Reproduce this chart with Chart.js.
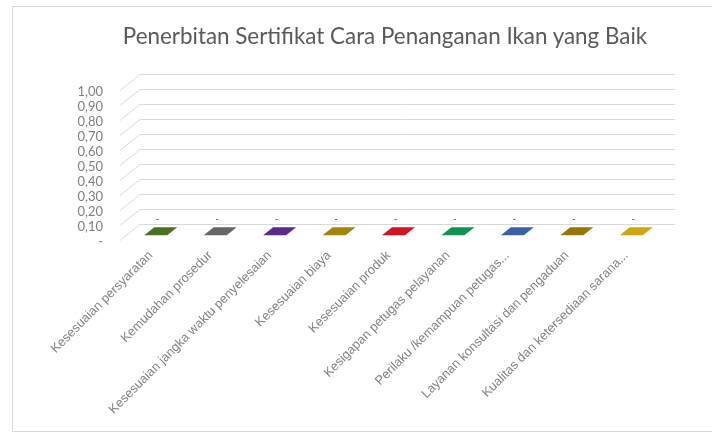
<!DOCTYPE html>
<html>
<head>
<meta charset="utf-8">
<script src="https://cdn.jsdelivr.net/npm/chart.js@4.4.0/dist/chart.umd.min.js"></script>
<style>
  body { margin: 0; background: #fff; overflow: hidden; }
  .frame { position: absolute; left: 12px; top: 6px; width: 760px; height: 424px; border: 1px solid #d9d9d9; }
  .box { position: relative; width: 699px; height: 424px; }
  .title { position: absolute; left: 0; top: 22px; width: 770px; text-align: center;
           font: 22.4px Lato, sans-serif; color: #595959; line-height: 28px; white-space: nowrap; }
</style>
</head>
<body>
<div class="frame"><div class="box"><canvas id="chart"></canvas></div></div>
<div class="title">Penerbitan Sertifikat Cara Penanganan Ikan yang Baik</div>
<script>
const categories = [
    'Kesesuaian persyaratan',
    'Kemudahan prosedur',
    'Kesesuaian jangka waktu penyelesaian',
    'Kesesuaian biaya',
    'Kesesuaian produk',
    'Kesigapan petugas pelayanan',
    'Perilaku /kemampuan petugas...',
    'Layanan konsultasi dan pengaduan',
    'Kualitas dan ketersediaan sarana...'
];
const values = [0, 0, 0, 0, 0, 0, 0, 0, 0];
const barColors = ['#4b7023', '#666666', '#5b2a8c', '#a3850c', '#d01422', '#0f9352', '#3a62a8', '#957708', '#d1a50f'];
const yMin = 0;
const yMax = 1;
const yStep = 0.1;

// Excel style accounting format: 0 shows as "-"
const fmt = v => Math.abs(v) < 1e-9 ? '-' : v.toFixed(2).replace('.', ',');

// depth of the fake 3D floor
const depthX = 20;
const depthY = 16;

const floor3d = {
    id: 'floor3d',
    beforeDatasetsDraw(chart) {
        const { ctx, chartArea, scales } = chart;
        const y = scales.y;
        ctx.save();
        ctx.strokeStyle = '#d9d9d9';
        ctx.lineWidth = 1;
        y.ticks.forEach(t => {
            const py = Math.round(y.getPixelForValue(t.value)) + 0.5;
            ctx.beginPath();
            ctx.moveTo(chartArea.left - depthX, py + depthY);
            ctx.lineTo(chartArea.left, py);
            ctx.stroke();
        });
        ctx.restore();
    },
    afterDatasetsDraw(chart) {
        const { ctx } = chart;
        const meta = chart.getDatasetMeta(0);
        const half = 11.5;
        ctx.save();
        meta.data.forEach((bar, i) => {
            const top = bar.y;
            const f1 = 0.2, f2 = 0.7;
            const y1 = top + f1 * depthY, y2 = top + f2 * depthY;
            const x1 = bar.x - f1 * depthX, x2 = bar.x - f2 * depthX;
            ctx.fillStyle = barColors[i];
            ctx.beginPath();
            ctx.moveTo(x1 - half, y1);
            ctx.lineTo(x1 + half, y1);
            ctx.lineTo(x2 + half, y2);
            ctx.lineTo(x2 - half, y2);
            ctx.closePath();
            ctx.fill();

            ctx.fillStyle = '#404040';
            ctx.font = '10px Lato';
            ctx.textAlign = 'center';
            ctx.textBaseline = 'middle';
            ctx.fillText(fmt(values[i]), bar.x - 12, top - 5);
        });
        ctx.restore();
    }
};

const ctx = document.getElementById('chart').getContext('2d');
new Chart(ctx, {
    type: 'bar',
    data: {
        labels: categories,
        datasets: [{
            data: values,
            backgroundColor: barColors,
            borderWidth: 0,
            barPercentage: 0.4,
            categoryPercentage: 1
        }]
    },
    options: {
        responsive: true,
        maintainAspectRatio: false,
        animation: false,
        layout: { padding: { left: 0, right: 37, top: 67, bottom: 0 } },
        plugins: {
            legend: { display: false },
            tooltip: { enabled: false },
            title: { display: false }
        },
        scales: {
            y: {
                min: yMin,
                max: yMax,
                afterFit(scale) { scale.width = 127; },
                border: { display: false },
                grid: { color: '#d9d9d9', drawTicks: false },
                ticks: {
                    stepSize: yStep,
                    autoSkip: false,
                    padding: 37,
                    labelOffset: 18,
                    color: '#7f7f7f',
                    font: { family: 'Lato', size: 13, lineHeight: 1 },
                    callback: v => fmt(v)
                }
            },
            x: {
                afterFit(scale) { scale.height = 207; },
                border: { display: false },
                grid: { display: false },
                ticks: {
                    autoSkip: false,
                    minRotation: 45,
                    maxRotation: 45,
                    labelOffset: -19,
                    padding: 16,
                    color: '#808080',
                    font: { family: 'Liberation Sans', size: 12.8 }
                }
            }
        }
    },
    plugins: [floor3d]
});
</script>
</body>
</html>
